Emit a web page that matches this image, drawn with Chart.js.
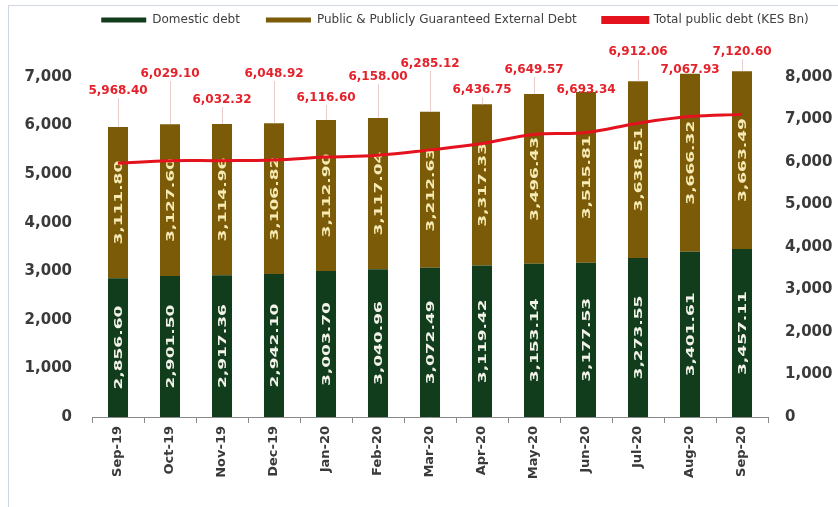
<!DOCTYPE html>
<html>
<head>
<meta charset="utf-8">
<script src="https://cdn.jsdelivr.net/npm/chart.js@4.4.1/dist/chart.umd.min.js"></script>
<style>
  html, body { margin: 0; padding: 0; background: #ffffff; }
  #wrap { position: relative; width: 838px; height: 507px; overflow: hidden; }
  #frame { position: absolute; left: 8px; top: 5px; width: 840px; height: 520px;
           border: 1px solid #cfd8e0; box-sizing: border-box; }
  #c { position: absolute; left: 0; top: 0; }
</style>
</head>
<body>
<div id="wrap">
  <div id="frame"></div>
  <canvas id="c" width="838" height="507"></canvas>
</div>
<script>
// Monthly public debt stock, KES billion
const months = ['Sep-19', 'Oct-19', 'Nov-19', 'Dec-19', 'Jan-20', 'Feb-20', 'Mar-20',
                'Apr-20', 'May-20', 'Jun-20', 'Jul-20', 'Aug-20', 'Sep-20'];
const domesticDebt = [2856.60, 2901.50, 2917.36, 2942.10, 3003.70, 3040.96, 3072.49,
                      3119.42, 3153.14, 3177.53, 3273.55, 3401.61, 3457.11];
const externalDebt = [3111.80, 3127.60, 3114.96, 3106.82, 3112.90, 3117.04, 3212.63,
                      3317.33, 3496.43, 3515.81, 3638.51, 3666.32, 3663.49];
const totalDebt = [5968.40, 6029.10, 6032.32, 6048.92, 6116.60, 6158.00, 6285.12,
                   6436.75, 6649.57, 6693.34, 6912.06, 7067.93, 7120.60];
const leftAxisTicks = [0, 1000, 2000, 3000, 4000, 5000, 6000, 7000];
const rightAxisTicks = [0, 1000, 2000, 3000, 4000, 5000, 6000, 7000, 8000];

// How far (px) each total label sits above its bar, staggered so they don't collide
const totalLabelLift = [36, 50, 24, 49, 22, 41, 48, 14, 24, 2, 29, 4, 19];

const FONT = "'DejaVu Sans', sans-serif";
const fmt = v => v.toLocaleString('en-US', { minimumFractionDigits: 2, maximumFractionDigits: 2 });
const fmtTick = v => v.toLocaleString('en-US');

// Rotated values inside each stacked segment
const segmentLabels = {
  id: 'segmentLabels',
  afterDatasetDraw(chart, args) {
    const meta = args.meta;
    if (meta.type !== 'bar') return;
    const ds = chart.data.datasets[args.index];
    const ctx = chart.ctx;
    ctx.save();
    ctx.font = 'bold 10px ' + FONT;
    ctx.fillStyle = ds.labelColor;
    ctx.textAlign = 'center';
    ctx.textBaseline = 'middle';
    meta.data.forEach((el, i) => {
      const mid = (el.y + el.base) / 2;
      ctx.save();
      ctx.translate(el.x, mid);
      ctx.rotate(-Math.PI / 2);
      ctx.scale(1.7, 1);
      ctx.fillText(fmt(ds.data[i]), 0, 1);
      ctx.restore();
    });
    ctx.restore();
  },
  afterDatasetsDraw(chart) {
    // totals above the stacks, with thin leader lines
    const top = chart.getDatasetMeta(1);
    const ctx = chart.ctx;
    ctx.save();
    ctx.font = 'bold 12px ' + FONT;
    ctx.textAlign = 'center';
    ctx.textBaseline = 'middle';
    top.data.forEach((el, i) => {
      const ly = el.y - totalLabelLift[i];
      if (el.y - ly > 12) {
        ctx.strokeStyle = '#e9cccc';
        ctx.lineWidth = 1;
        ctx.beginPath();
        ctx.moveTo(Math.round(el.x) + 0.5, ly + 7);
        ctx.lineTo(Math.round(el.x) + 0.5, el.y);
        ctx.stroke();
      }
      ctx.fillStyle = '#e4222b';
      ctx.fillText(fmt(totalDebt[i]), el.x, ly);
    });
    ctx.restore();
  }
};

// Legend spacing and horizontal placement
const legendLayout = {
  id: 'legendLayout',
  beforeInit(chart) {
    const legend = chart.legend;
    const origFit = legend.fit;
    legend.fit = function () {
      origFit.call(this);
      this.height = 89;
    };
  },
  afterLayout(chart) {
    chart.legend.left += 36;
    chart.legend.right += 36;
  }
};

new Chart(document.getElementById('c'), {
  type: 'bar',
  data: {
    labels: months,
    datasets: [
      {
        label: 'Domestic debt',
        data: domesticDebt,
        backgroundColor: '#123d1d',
        labelColor: '#f3f3ea',
        yAxisID: 'y',
        order: 1,
        clip: false,
        barPercentage: 0.385,
        categoryPercentage: 1
      },
      {
        label: 'Public & Publicly Guaranteed External Debt',
        data: externalDebt,
        backgroundColor: '#7b5a08',
        labelColor: '#f6ebb4',
        yAxisID: 'y',
        order: 1,
        clip: false,
        barPercentage: 0.385,
        categoryPercentage: 1
      },
      {
        type: 'line',
        label: 'Total public debt (KES Bn)',
        data: totalDebt,
        borderColor: '#e3121c',
        backgroundColor: '#e3121c',
        borderWidth: 3,
        pointRadius: 0,
        tension: 0.4,
        fill: false,
        yAxisID: 'y2',
        order: 0
      }
    ]
  },
  options: {
    responsive: false,
    animation: false,
    layout: { padding: { top: -12, left: 0, right: 0, bottom: 0 } },
    plugins: {
      legend: {
        position: 'top',
        labels: {
          boxWidth: 45,
          boxHeight: 5,
          padding: 26,
          color: '#404040',
          font: { family: FONT, size: 12 },
          sort: (a, b) => a.datasetIndex - b.datasetIndex
        }
      },
      tooltip: { enabled: false }
    },
    scales: {
      x: {
        stacked: true,
        offset: true,
        grid: { display: true, drawOnChartArea: false, drawTicks: true, tickLength: 6,
                color: '#8a8a8a', offset: true },
        border: { display: true, color: '#8a8a8a', width: 1 },
        ticks: { color: '#3a3a3a', font: { family: FONT, size: 13, weight: 'bold' },
                 maxRotation: 90, minRotation: 90, autoSkip: false, padding: 3 },
        afterFit(s) { s.height = 90; }
      },
      y: {
        stacked: true,
        position: 'left',
        min: 0,
        max: 7000,
        grid: { display: false, drawTicks: false },
        border: { display: false },
        afterBuildTicks(s) { s.ticks = leftAxisTicks.map(v => ({ value: v })); },
        ticks: { color: '#3a3a3a', font: { family: FONT, size: 15, weight: 'bold' },
                 padding: 20, callback: v => fmtTick(v) },
        afterFit(s) { s.width = 92; }
      },
      y2: {
        position: 'right',
        min: 0,
        max: 8000,
        grid: { display: false, drawTicks: false },
        border: { display: false },
        afterBuildTicks(s) { s.ticks = rightAxisTicks.map(v => ({ value: v })); },
        ticks: { color: '#3a3a3a', font: { family: FONT, size: 15, weight: 'bold' },
                 padding: 17, callback: v => fmtTick(v) },
        afterFit(s) { s.width = 70; }
      }
    }
  },
  plugins: [segmentLabels, legendLayout]
});
</script>
</body>
</html>
